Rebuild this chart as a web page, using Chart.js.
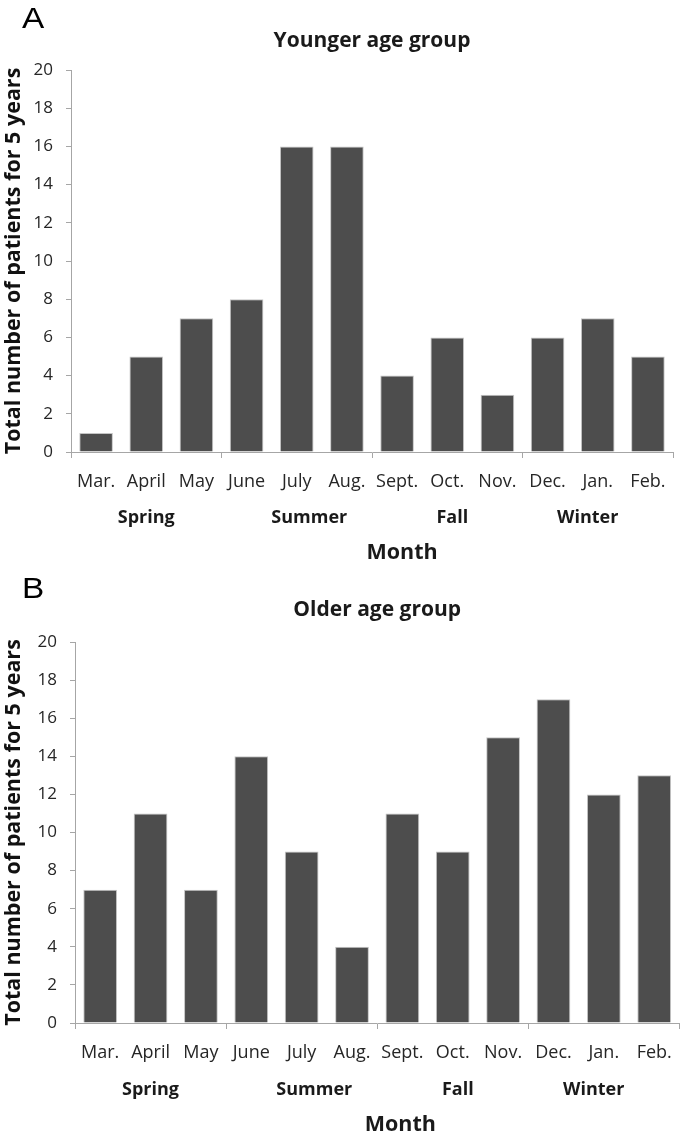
<!DOCTYPE html>
<html>
<head>
<meta charset="utf-8">
<script src="https://cdn.jsdelivr.net/npm/chart.js@4.4.1/dist/chart.umd.min.js"></script>
<style>
  html, body { margin: 0; padding: 0; background: #ffffff; }
  #wrap { position: relative; width: 685px; height: 1136px; }
  .panel { position: absolute; left: 0; width: 685px; height: 568px; }
</style>
</head>
<body>
<div id="wrap">
  <div class="panel" style="top:0"><canvas id="cA" width="685" height="568"></canvas></div>
  <div class="panel" style="top:568px"><canvas id="cB" width="685" height="568"></canvas></div>
</div>
<script>
// ---- data ----
const months = ["Mar.", "April", "May", "June", "July", "Aug.", "Sept.", "Oct.", "Nov.", "Dec.", "Jan.", "Feb."];
const seasons = ["Spring", "Summer", "Fall", "Winter"];
const youngerCounts = [1, 5, 7, 8, 16, 16, 4, 6, 3, 6, 7, 5];
const olderCounts = [7, 11, 7, 14, 9, 4, 11, 9, 15, 17, 12, 13];
const yTicks = [0, 2, 4, 6, 8, 10, 12, 14, 16, 18, 20];
const panelLetters = ["A", "B"];
const chartTitles = ["Younger age group", "Older age group"];
const yAxisTitle = "Total number of patients for 5 years";
const xAxisTitle = "Month";

// ---- layout / style ----
const FONT = "'Open Sans', Lato, 'Liberation Sans', sans-serif";
const seasonPos = [1, 4.25, 7.1, 9.8];   // label centres, in category units
const axisGray = "#a6a6a6";

function interp(scale, pos) {
  const i0 = Math.floor(pos), f = pos - i0;
  const p0 = scale.getPixelForValue(i0);
  const p1 = scale.getPixelForValue(Math.min(i0 + 1, 11));
  const step = i0 + 1 <= 11 ? (p1 - p0) : (p0 - scale.getPixelForValue(i0 - 1));
  return p0 + f * step;
}

const extras = {
  id: "extras",
  afterDraw(chart, args, opts) {
    const ctx = chart.ctx;
    const x = chart.scales.x;
    const bottom = chart.chartArea.bottom;
    ctx.save();
    ctx.fillStyle = "#1a1a1a";
    ctx.textAlign = "center";
    ctx.textBaseline = "middle";
    // season labels
    ctx.font = "bold 18px " + FONT;
    seasons.forEach((s, i) => {
      ctx.fillText(s, interp(x, seasonPos[i]), bottom + opts.seasonDy);
    });
    // month axis title
    ctx.font = "bold 21.5px " + FONT;
    ctx.fillText(xAxisTitle, interp(x, opts.monthPos), bottom + opts.monthDy);
    ctx.restore();
    // panel letter
    ctx.save();
    ctx.fillStyle = "#000000";
    ctx.textAlign = "left";
    ctx.textBaseline = "alphabetic";
    ctx.font = "29px 'Liberation Sans', Arial, sans-serif";
    ctx.translate(22, opts.letterBase);
    ctx.scale(1.15, 1);
    ctx.fillText(opts.letter, 0, 0);
    ctx.restore();
  }
};

function makeChart(id, values, cfg) {
  return new Chart(document.getElementById(id), {
    type: "bar",
    data: {
      labels: months,
      datasets: [{
        data: values,
        backgroundColor: "#4d4d4d",
        borderColor: "#c4c4c4",
        borderWidth: 1,
        barPercentage: 0.67,
        categoryPercentage: 1.0
      }]
    },
    options: {
      responsive: false,
      animation: false,
      events: [],
      layout: { padding: { top: 0, left: 0, right: cfg.right, bottom: 0 } },
      plugins: {
        legend: { display: false },
        tooltip: { enabled: false },
        title: {
          display: true,
          text: cfg.title,
          fullSize: false,
          color: "#1a1a1a",
          font: { family: FONT, size: 21, weight: "bold", lineHeight: 1.2 },
          padding: { top: cfg.titleTop, bottom: cfg.titleBottom }
        },
        extras: cfg.extras
      },
      scales: {
        x: {
          afterFit: s => { s.height = cfg.xHeight; },
          grid: {
            offset: true,
            drawOnChartArea: false,
            drawTicks: true,
            tickLength: 6,
            lineWidth: 1,
            color: c => (c.index === undefined || c.index % 3 === 0) ? axisGray : "rgba(0,0,0,0)"
          },
          border: { color: axisGray, width: 1 },
          ticks: {
            color: "#262626",
            padding: 13,
            maxRotation: 0,
            autoSkip: false,
            font: { family: FONT, size: 18 }
          }
        },
        y: {
          min: 0,
          max: 20,
          afterFit: s => { s.width = cfg.yWidth; },
          afterBuildTicks: s => { s.ticks = yTicks.map(v => ({ value: v })); },
          grid: { drawOnChartArea: false, drawTicks: true, tickLength: 5, color: axisGray },
          border: { color: axisGray, width: 1 },
          ticks: {
            color: "#262626",
            padding: 13,
            font: { family: FONT, size: 17 }
          },
          title: {
            display: true,
            text: yAxisTitle,
            color: "#111111",
            font: { family: FONT, size: 21.5, weight: "bold", lineHeight: 1.2 },
            padding: { top: 1, bottom: 0 }
          }
        }
      }
    },
    plugins: [extras]
  });
}

makeChart("cA", youngerCounts, {
  title: chartTitles[0], right: 12, titleTop: 28, titleBottom: 16.8,
  xHeight: 116, yWidth: 71,
  extras: { letter: panelLetters[0], letterBase: 28, seasonDy: 66, monthDy: 101, monthPos: 6.1 }
});
makeChart("cB", olderCounts, {
  title: chartTitles[1], right: 3, titleTop: 29, titleBottom: 19.8,
  xHeight: 113, yWidth: 75,
  extras: { letter: panelLetters[1], letterBase: 30, seasonDy: 67, monthDy: 102, monthPos: 5.96 }
});
</script>
</body>
</html>
